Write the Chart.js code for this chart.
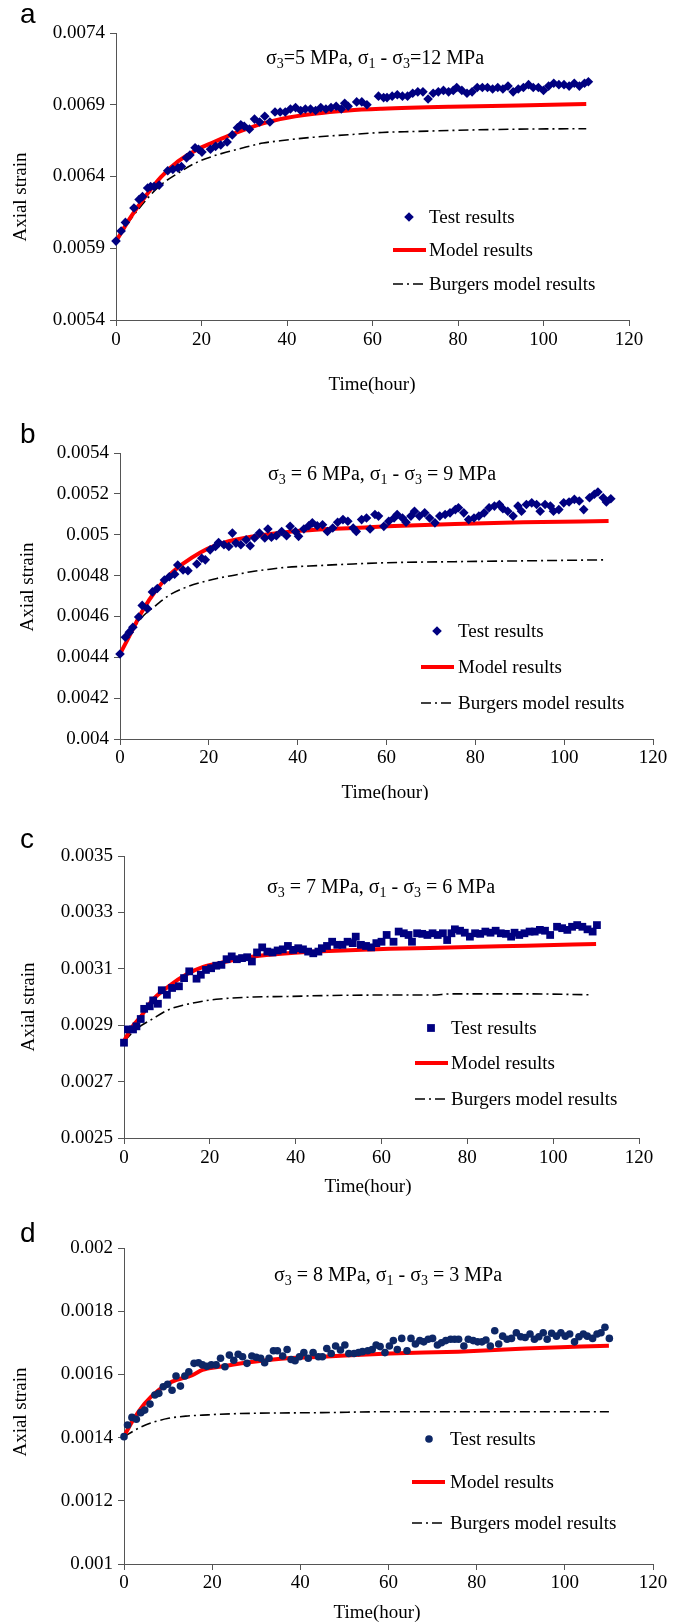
<!DOCTYPE html>
<html>
<head>
<meta charset="utf-8">
<script src="https://cdn.jsdelivr.net/npm/chart.js@4.4.1/dist/chart.umd.min.js"></script>
<style>
  html, body { margin: 0; padding: 0; background: #fff; }
  #page { position: relative; width: 682px; height: 1624px; }
  canvas { position: absolute; left: 0; }
</style>
</head>
<body>
<div id="page">
  <canvas id="chart-a" width="682" height="400" style="top:0px"></canvas>
  <canvas id="chart-b" width="682" height="400" style="top:400px"></canvas>
  <canvas id="chart-c" width="682" height="400" style="top:800px"></canvas>
  <canvas id="chart-d" width="682" height="424" style="top:1200px"></canvas>
</div>
<script>
// ---- data (time in hours, axial strain) ----

// panel a : sigma3 = 5 MPa, deviator 12 MPa
const aTestT = [0,1.2,2.2,4.2,5.4,6.2,7.4,8.1,8.9,10.1,12.1,13.3,14.5,15.3,16.5,17.3,18.5,19.3,20.1,22.1,23.3,24.5,26,27.2,28.4,29.2,30,31.2,32.4,33.6,34.8,36,37.2,38.4,39.6,40.8,42,43.2,44.3,45.5,46.7,47.9,49.1,50.3,51.5,52.7,53.5,54.3,56.3,57.5,58.7,61.4,62.6,63.4,64.6,65.8,67,68.2,69.4,70.6,71.8,73,74.2,75.4,76.6,77.8,78.9,79.7,80.9,82.1,83.3,84.5,85.7,86.9,88.1,89.3,90.5,91.7,92.9,94.1,95.3,96.5,97.6,98.8,100,101.2,102.4,103.6,104.8,106,107.2,108.4,109.6,110.5]
const aTestV = [0.00595,0.00602,0.00608,0.00618,0.00624,0.00626,0.00632,0.00633,0.00633,0.00634,0.00644,0.00645,0.00646,0.00647,0.00653,0.00655,0.0066,0.00659,0.00657,0.00659,0.00661,0.00662,0.00664,0.00669,0.00674,0.00676,0.00675,0.00673,0.0068,0.00678,0.00682,0.00678,0.00685,0.00685,0.00685,0.00687,0.00688,0.00686,0.00687,0.00687,0.00686,0.00688,0.00687,0.00688,0.00689,0.00687,0.00691,0.00689,0.00692,0.00692,0.0069,0.00696,0.00695,0.00695,0.00696,0.00697,0.00696,0.00696,0.00698,0.00699,0.00699,0.00694,0.00698,0.00699,0.007,0.00699,0.007,0.00702,0.007,0.00698,0.00699,0.00702,0.00702,0.00702,0.00701,0.00702,0.00701,0.00703,0.00699,0.00701,0.00702,0.00704,0.00702,0.00702,0.007,0.00703,0.00705,0.00704,0.00704,0.00703,0.00705,0.00703,0.00705,0.00706]
const aModelT = [0,3.4,6.6,10.5,14.5,18.5,22.5,26.4,30.4,34.4,38.4,46.3,54.3,62.2,78.2,94.1,110]
const aModelV = [0.005947,0.006115,0.00625,0.006395,0.006505,0.00658,0.006635,0.006685,0.00673,0.00677,0.0068,0.006837,0.00686,0.006872,0.006886,0.006895,0.006905]
const aBurgT = [0,3.4,7.4,10.5,14.5,18.5,22.5,26.4,30.4,34.4,38.4,46.3,54.3,62.2,70.2,78.2,94.1,110]
const aBurgV = [0.005947,0.0061,0.006249,0.006342,0.006423,0.006493,0.00654,0.006574,0.006605,0.006633,0.006649,0.006674,0.006691,0.006707,0.006714,0.006721,0.00673,0.006733]

// panel b : sigma3 = 6 MPa, deviator 9 MPa
const bTestT = [0,1.2,2.1,2.9,4.2,5,6.2,7.3,8.4,10,11.1,12.3,13,14.2,15.3,17.3,18.4,19.2,20.3,21.5,22.2,23.4,24.5,25.3,26.1,27.2,28.4,29.3,30.3,31.4,32.6,33.3,34.1,35.2,36.4,37.5,38.3,39.5,40.2,41.4,42.5,43.3,44.4,45.6,46.7,47.9,49,50.2,51.3,52.5,53.2,54.4,55.5,56.3,57.4,58.2,59.4,60.5,61.7,62.4,63.6,64.4,65.5,66.3,67.4,68.6,69.7,70.9,72,73.2,74.3,75.5,76.2,77.4,78.5,79.7,80.8,82,83.1,84.3,85.4,86.2,87.3,88.5,89.6,90.4,91.5,92.7,93.8,94.6,95.7,96.9,97.6,98.8,99.9,101.1,102.3,103.4,104.4,105.7,106.8,107.6,108.8,109.5,110.5]
const bTestV = [0.004416,0.004498,0.004523,0.004547,0.004597,0.004654,0.004638,0.00472,0.004737,0.004778,0.004794,0.004807,0.004852,0.004827,0.004824,0.004857,0.004885,0.004877,0.004926,0.004942,0.004962,0.004951,0.004942,0.005008,0.004959,0.004951,0.004975,0.004946,0.004984,0.005008,0.004984,0.005028,0.004988,0.004995,0.005016,0.004995,0.005041,0.005016,0.004992,0.005028,0.005044,0.005058,0.005044,0.005049,0.005016,0.005033,0.005061,0.005074,0.005066,0.005033,0.005016,0.005074,0.005082,0.005028,0.005099,0.005091,0.005041,0.005066,0.005082,0.005099,0.005082,0.005061,0.005091,0.005115,0.005091,0.005107,0.005082,0.005058,0.005091,0.005099,0.005107,0.005123,0.005132,0.005107,0.005074,0.005082,0.005091,0.005107,0.005132,0.00514,0.005148,0.005127,0.005115,0.005091,0.00514,0.005115,0.005148,0.005156,0.005148,0.005115,0.005148,0.00514,0.005115,0.005123,0.005156,0.00516,0.005173,0.005165,0.005123,0.005181,0.005198,0.005209,0.005181,0.00516,0.005176]
const bModelT = [0,1.9,5,8.1,11.1,14.2,18,21.8,25.7,29.5,37.2,44.8,52.5,60.1,75.4,90.8,110]
const bModelV = [0.004416,0.004495,0.004625,0.004728,0.004802,0.004858,0.004912,0.00495,0.004974,0.00499,0.005012,0.005025,0.005033,0.005041,0.005053,0.005061,0.005067]
const bBurgT = [0,2.3,5,8.1,11.1,14.2,18,21.8,25.7,29.5,33.3,37.2,44.8,52.5,60.1,75.4,90.8,109]
const bBurgV = [0.004416,0.004514,0.004597,0.004654,0.004704,0.004737,0.004765,0.004786,0.004802,0.004819,0.00483,0.00484,0.004849,0.004857,0.004863,0.004868,0.004872,0.004877]

// panel c : sigma3 = 7 MPa, deviator 6 MPa
const cTestT = [0,0.9,2.1,2.9,3.9,4.7,6,6.8,7.9,8.8,10,11.2,12.8,14,15.2,16.9,17.9,19.1,20.3,21.5,22.7,23.9,25.1,26.3,27.5,28.7,29.8,31,32.2,33.4,34.6,35.8,37,38.2,39.4,40.6,41.7,42.9,44.1,45.3,46.1,47.3,48.5,49.7,50.9,52.1,53.3,54,55.2,56.4,57.6,58.8,60,61.2,62.8,64,65.2,66.3,67.1,68.3,69.5,70.7,71.9,73.1,74.3,75.3,76.3,77.1,78.3,79.4,80.6,81.8,83,84.2,85.4,86.6,87.8,89,90.2,91,92.1,93.3,94.5,95.7,96.9,98.1,99.3,100.9,102.1,103.3,104.4,105.6,106.8,108,109.2,110.2]
const cTestV = [0.002838,0.002885,0.002885,0.002896,0.002922,0.002958,0.002967,0.002988,0.002976,0.003024,0.003008,0.003032,0.003038,0.003067,0.003091,0.003065,0.003079,0.003096,0.003102,0.003111,0.003114,0.003134,0.003144,0.003134,0.003138,0.003141,0.003126,0.003158,0.003176,0.003161,0.003158,0.003165,0.003169,0.003181,0.003167,0.003173,0.003169,0.003161,0.003155,0.003161,0.003173,0.003181,0.003196,0.003185,0.003185,0.003196,0.003191,0.003214,0.003185,0.003181,0.003176,0.003191,0.003196,0.00322,0.003196,0.003232,0.003226,0.00322,0.003196,0.003226,0.003224,0.00322,0.003226,0.00322,0.003226,0.003202,0.003226,0.00324,0.003235,0.003228,0.003214,0.003226,0.003224,0.003232,0.003228,0.003235,0.003226,0.003224,0.003214,0.003228,0.00322,0.003226,0.003232,0.003232,0.003238,0.003235,0.00322,0.003249,0.003244,0.003238,0.003249,0.003255,0.003249,0.00324,0.003232,0.003255]
const cModelT = [0,2,4,6.4,10.4,14.4,18.3,22.3,26.3,30.2,38.2,46.1,54,62,77.9,93.7,110]
const cModelV = [0.002844,0.002896,0.002932,0.002985,0.003038,0.003079,0.003106,0.00312,0.003134,0.003144,0.003155,0.003162,0.003167,0.003171,0.003176,0.003182,0.003188]
const cBurgT = [0,3.3,6.4,10.4,14.4,18.3,22.3,30.2,38.2,46.1,62,72,76,93.7,108.6]
const cBurgV = [0.002844,0.002891,0.00292,0.002955,0.002973,0.002985,0.002993,0.003,0.003002,0.003005,0.003007,0.003007,0.003011,0.003011,0.003008]

// panel d : sigma3 = 8 MPa, deviator 3 MPa
const dTestT = [0,0.8,1.8,2.8,3.8,4.7,5.9,7,7.9,8.9,9.9,10.9,11.8,12.8,13.8,14.7,15.9,16.9,17.8,18.8,19.8,20.9,21.9,22.9,23.9,24.9,25.9,26.9,27.9,29,30,31,31.9,32.9,33.9,34.8,36,37,37.9,38.8,39.8,40.8,41.8,42.9,44.1,45,46,47,48,49.1,50.1,51,52.2,53.2,54.1,55.3,56.3,57.2,58.1,59.2,60.2,61.1,62,63,64.2,65.1,66.1,67.1,68,69,70,71.1,72,73,74.1,75,75.9,77.1,78.1,79.2,80.2,81.2,82.1,83.1,84.1,85,85.9,86.9,87.9,89,90,91,92.1,93.1,94.1,95.1,96,97,98.1,99.1,100.1,101.1,102.2,103.2,104.2,105.1,106.3,107.3,108.2,109.1,110.1]
const dTestV = [0.001403,0.00144,0.001464,0.001458,0.001479,0.001487,0.001506,0.001535,0.00154,0.001561,0.001569,0.00155,0.001595,0.001563,0.001595,0.001608,0.001635,0.001637,0.00163,0.001626,0.00163,0.00163,0.001651,0.001624,0.001661,0.001645,0.001664,0.001656,0.001635,0.001658,0.001654,0.001651,0.001637,0.001651,0.001675,0.001675,0.001658,0.001679,0.001647,0.001643,0.001656,0.001669,0.001651,0.001669,0.001656,0.001656,0.001682,0.001666,0.00169,0.001677,0.001693,0.001666,0.001666,0.001669,0.001672,0.001675,0.001679,0.001693,0.001688,0.001669,0.00169,0.001707,0.001679,0.001714,0.001675,0.001714,0.001696,0.001707,0.001703,0.001711,0.001714,0.001693,0.0017,0.001707,0.001711,0.001711,0.001711,0.00169,0.001711,0.001707,0.001703,0.001703,0.001709,0.00169,0.001738,0.001696,0.001721,0.001711,0.001714,0.001732,0.001719,0.001717,0.001728,0.001711,0.001719,0.001732,0.001711,0.00173,0.001721,0.001732,0.001721,0.001728,0.001703,0.001719,0.001728,0.001721,0.001714,0.001728,0.001732,0.001749,0.001714]
const dModelT = [0,1.6,4.7,7.8,10.9,15.5,17.8,21.7,25.6,29.4,37.1,44.9,52.6,60.3,75.8,91.2,110]
const dModelV = [0.001403,0.001445,0.001508,0.00155,0.001577,0.001598,0.001614,0.001624,0.001633,0.00164,0.001651,0.001656,0.001661,0.001666,0.001672,0.001682,0.001691]
const dBurgT = [0,3.2,6.3,10.1,14,17.8,21.7,29.4,44.9,60.3,110]
const dBurgV = [0.001403,0.001429,0.001447,0.001461,0.001468,0.001471,0.001474,0.001477,0.001479,0.001482,0.001482]

// tick ranges
const xTicks = { min: 0, max: 120, step: 20 }
const yRangeA = { min: 0.0054, max: 0.0074, step: 0.0005 }
const yRangeB = { min: 0.004, max: 0.0054, step: 0.0002 }
const yRangeC = { min: 0.0025, max: 0.0035, step: 0.0002 }
const yRangeD = { min: 0.001, max: 0.002, step: 0.0002 }

const seriesNames = ['Test results', 'Model results', 'Burgers model results']

const serif = '"Liberation Serif", "Times New Roman", serif'

function series(t, v) {
    return t.map((x, i) => ({ x: x, y: v[i] }))
}

// text with "_" marking a one-character subscript
function drawCondition(ctx, text, cx, y, size) {
    const parts = []
    for (let i = 0; i < text.length; i++) {
        if (text[i] === '_') { parts.push([text[i + 1], true]); i++ }
        else parts.push([text[i], false])
    }
    const big = size + 'px ' + serif
    const small = Math.round(size * 0.68) + 'px ' + serif
    let w = 0
    parts.forEach(p => { ctx.font = p[1] ? small : big; w += ctx.measureText(p[0]).width })
    let x = cx - w / 2
    ctx.textAlign = 'left'
    ctx.textBaseline = 'alphabetic'
    parts.forEach(p => {
        ctx.font = p[1] ? small : big
        ctx.fillText(p[0], x, p[1] ? y + size * 0.22 : y)
        x += ctx.measureText(p[0]).width
    })
}

const panelDecor = {
    id: 'panelDecor',
    afterDraw(chart, args, o) {
        const ctx = chart.ctx
        const top = o.top
        ctx.save()
        ctx.fillStyle = '#000'

        ctx.font = '28px "Liberation Sans", Arial, sans-serif'
        ctx.textAlign = 'left'
        ctx.textBaseline = 'alphabetic'
        ctx.fillText(o.letter, 20, o.letterY - top)

        drawCondition(ctx, o.cond, o.condX, o.condY - top, 20)

        ctx.font = '19px ' + serif
        ctx.textAlign = 'center'
        ctx.textBaseline = 'middle'
        ctx.fillText('Time(hour)', o.xTitle[0], o.xTitle[1] - top)
        ctx.save()
        ctx.translate(o.yTitle[0], o.yTitle[1] - top)
        ctx.rotate(-Math.PI / 2)
        ctx.fillText('Axial strain', 0, 0)
        ctx.restore()

        // legend inside the plot
        const lx0 = o.legendLine[0], lx1 = o.legendLine[1]
        chart.data.datasets.forEach((ds, i) => {
            const y = o.legendRows[i] - top
            if (ds.showLine === false) {
                ctx.fillStyle = ds.backgroundColor
                ctx.strokeStyle = ds.borderColor
                Chart.helpers.drawPoint(ctx, { pointStyle: ds.pointStyle, radius: ds.pointRadius, borderWidth: 0, rotation: 0 }, o.markerX, y)
            } else {
                ctx.strokeStyle = ds.borderColor
                ctx.lineWidth = ds.borderWidth
                ctx.setLineDash(ds.borderDash || [])
                ctx.beginPath()
                ctx.moveTo(lx0, y)
                ctx.lineTo(lx1, y)
                ctx.stroke()
                ctx.setLineDash([])
            }
            ctx.fillStyle = '#000'
            ctx.font = '19px ' + serif
            ctx.textAlign = 'left'
            ctx.textBaseline = 'middle'
            ctx.fillText(ds.label, o.textX, y + 1)
        })
        ctx.restore()
    }
}

function makeChart(id, p) {
    const ctx = document.getElementById(id)
    const datasets = [{
        label: seriesNames[0],
        data: series(p.testT, p.testV),
        showLine: false,
        pointStyle: p.marker,
        pointRadius: p.markerR,
        pointHoverRadius: p.markerR,
        backgroundColor: p.markerColor,
        borderColor: p.markerColor,
        borderWidth: 0,
        clip: 10
    }, {
        label: seriesNames[1],
        data: series(p.modelT, p.modelV),
        showLine: true,
        borderColor: '#ff0000',
        borderWidth: 4,
        pointRadius: 0,
        cubicInterpolationMode: 'monotone',
        clip: 10
    }, {
        label: seriesNames[2],
        data: series(p.burgT, p.burgV),
        showLine: true,
        borderColor: '#000000',
        borderWidth: 1.6,
        borderDash: [10, 4, 2, 4],
        pointRadius: 0,
        cubicInterpolationMode: 'monotone',
        clip: 10
    }]

    return new Chart(ctx, {
        type: 'scatter',
        data: { datasets: datasets },
        plugins: [panelDecor],
        options: {
            responsive: false,
            animation: false,
            devicePixelRatio: 1,
            layout: { padding: { top: p.padTop, right: p.padRight, left: 0, bottom: 0 } },
            plugins: {
                legend: { display: false },
                tooltip: { enabled: false },
                panelDecor: p.decor
            },
            scales: {
                x: {
                    type: 'linear',
                    min: xTicks.min,
                    max: xTicks.max,
                    afterFit: s => { s.height = p.xAxisH },
                    ticks: { stepSize: xTicks.step, color: '#000', font: { family: serif, size: 19 }, padding: p.xTickPad, maxRotation: 0, autoSkip: false },
                    grid: { drawOnChartArea: false, drawTicks: true, tickLength: 6, color: '#555' },
                    border: { display: true, color: '#555', width: 1 }
                },
                y: {
                    type: 'linear',
                    min: p.yRange.min,
                    max: p.yRange.max,
                    afterFit: s => { s.width = p.yAxisW },
                    ticks: {
                        stepSize: p.yRange.step,
                        color: '#000',
                        font: { family: serif, size: 19 },
                        padding: 5,
                        callback: v => String(parseFloat(v.toFixed(4)))
                    },
                    grid: { drawOnChartArea: false, drawTicks: true, tickLength: 6, color: '#555' },
                    border: { display: true, color: '#555', width: 1 }
                }
            }
        }
    })
}

makeChart('chart-a', {
    testT: aTestT, testV: aTestV, modelT: aModelT, modelV: aModelV, burgT: aBurgT, burgV: aBurgV,
    yRange: yRangeA, marker: 'rectRot', markerR: 4.8, markerColor: '#000080',
    padTop: 33, padRight: 53, yAxisW: 116, xAxisH: 80, xTickPad: 3,
    decor: {
        top: 0, letter: 'a', letterY: 23,
        cond: 'σ_3=5 MPa, σ_1 - σ_3=12 MPa', condX: 375, condY: 64,
        xTitle: [372, 385], yTitle: [21, 197],
        legendRows: [217, 250, 284], markerX: 409, legendLine: [393, 426], textX: 429
    }
})

makeChart('chart-b', {
    testT: bTestT, testV: bTestV, modelT: bModelT, modelV: bModelV, burgT: bBurgT, burgV: bBurgV,
    yRange: yRangeB, marker: 'rectRot', markerR: 4.8, markerColor: '#000080',
    padTop: 53, padRight: 29, yAxisW: 120, xAxisH: 61, xTickPad: 2,
    decor: {
        top: 400, letter: 'b', letterY: 443,
        cond: 'σ_3 = 6 MPa, σ_1 - σ_3 = 9 MPa', condX: 382, condY: 480,
        xTitle: [385, 793], yTitle: [28, 587],
        legendRows: [631, 667, 703], markerX: 437, legendLine: [421, 454], textX: 458
    }
})

makeChart('chart-c', {
    testT: cTestT, testV: cTestV, modelT: cModelT, modelV: cModelV, burgT: cBurgT, burgV: cBurgV,
    yRange: yRangeC, marker: 'rect', markerR: 5.5, markerColor: '#000080',
    padTop: 56, padRight: 43, yAxisW: 124, xAxisH: 62, xTickPad: 3,
    decor: {
        top: 800, letter: 'c', letterY: 848,
        cond: 'σ_3 = 7 MPa, σ_1 - σ_3 = 6 MPa', condX: 381, condY: 893,
        xTitle: [368, 1187], yTitle: [29, 1007],
        legendRows: [1028, 1063, 1099], markerX: 431, legendLine: [415, 448], textX: 451
    }
})

makeChart('chart-d', {
    testT: dTestT, testV: dTestV, modelT: dModelT, modelV: dModelV, burgT: dBurgT, burgV: dBurgV,
    yRange: yRangeD, marker: 'circle', markerR: 3.8, markerColor: '#0d2766',
    padTop: 48, padRight: 29, yAxisW: 124, xAxisH: 60, xTickPad: 2,
    decor: {
        top: 1200, letter: 'd', letterY: 1242,
        cond: 'σ_3 = 8 MPa, σ_1 - σ_3 = 3 MPa', condX: 388, condY: 1281,
        xTitle: [377, 1613], yTitle: [21, 1412],
        legendRows: [1439, 1482, 1523], markerX: 429, legendLine: [412, 445], textX: 450
    }
})
</script>
</body>
</html>
